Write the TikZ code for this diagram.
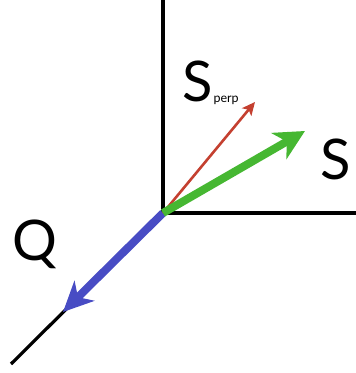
\documentclass[tikz,border=0pt]{standalone}
\usepackage{fontspec}
\setmainfont{Lato}
\usetikzlibrary{arrows.meta}
\begin{document}
\begin{tikzpicture}[x=1pt,y=1pt,
  axis/.style={line width=3.2pt,black},
  vecq/.style={line width=8pt,color={rgb,255:red,72;green,76;blue,196},-{Stealth[length=30pt,width=28pt,inset=9pt]}},
  vecs/.style={line width=8pt,color={rgb,255:red,70;green,183;blue,50},-{Stealth[length=30pt,width=30pt,inset=9pt]}},
  vecp/.style={line width=2.6pt,color={rgb,255:red,196;green,64;blue,48},-{Stealth[length=13pt,width=12pt,inset=3pt]}},
  lbl/.style={font=\fontsize{56}{56}\selectfont,inner sep=0pt}]
\useasboundingbox (0,0) rectangle (356,373);
\coordinate (O) at (163,160);
\coordinate (top) at (163,373);
\coordinate (right) at (356,160);
\coordinate (low) at (11,9);
\coordinate (qtip) at (63,61);
\coordinate (ptip) at (255,271);
\coordinate (stip) at (305,242);
\draw[axis] (O) -- (top);
\draw[axis] (O) -- (right);
\draw[axis] (O) -- (low);
\draw[vecq] (O) -- (qtip);
\draw[vecp] (O) -- (ptip);
\draw[vecs] (O) -- (stip);
\node[lbl] (S) at (336,214) {S};
\node[lbl] (Q) at (35,129) {Q};
\node[lbl,anchor=base west] (Sp) at (182,271) {S\kern1pt\raisebox{-1pt}{\fontsize{12.5}{12.5}\selectfont perp}};
\end{tikzpicture}
\end{document}
